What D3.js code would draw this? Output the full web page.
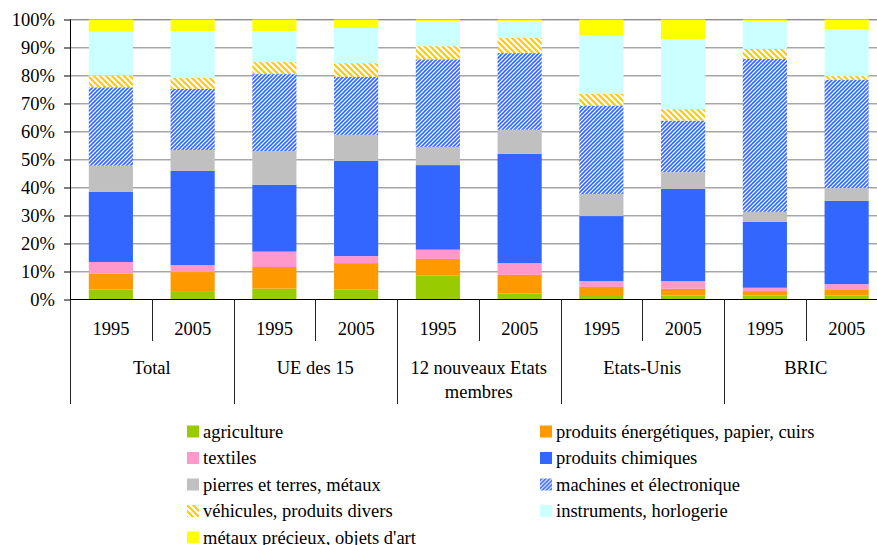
<!DOCTYPE html>
<html>
<head>
<meta charset="utf-8">
<script src="https://cdn.jsdelivr.net/npm/d3@7"></script>
<style>
  body { margin: 0; background: #fff; }
  svg { display: block; font-family: "Liberation Serif", "Times New Roman", serif; }
</style>
</head>
<body>
<svg id="chart" width="877" height="545"></svg>
<script>
// Groups and years (two bars per group)
var groups = ["Total", "UE des 15", "12 nouveaux Etats|membres", "Etats-Unis", "BRIC"];
var years = ["1995", "2005"];

// Series names (stack order, bottom to top)
var seriesNames = [
    "agriculture",
    "produits énergétiques, papier, cuirs",
    "textiles",
    "produits chimiques",
    "pierres et terres, métaux",
    "machines et électronique",
    "véhicules, produits divers",
    "instruments, horlogerie",
    "métaux précieux, objets d'art"
];

// Shares (%) per bar: Total95, Total05, UE95, UE05, NEM95, NEM05, US95, US05, BRIC95, BRIC05
var agriculture = [3.6, 3.0, 3.9, 3.5, 8.5, 2.1, 1.6, 1.4, 1.4, 1.4];
var energie     = [5.6, 6.8, 7.7, 9.5, 6.0, 6.7, 2.9, 2.4, 1.6, 2.0];
var textiles    = [4.2, 2.5, 5.5, 2.5, 3.3, 4.2, 2.1, 2.8, 1.2, 2.1];
var chimiques   = [25.0, 33.6, 23.9, 34.0, 30.2, 39.0, 23.2, 32.9, 23.5, 29.7];
var pierres     = [9.4, 7.5, 12.0, 9.3, 6.5, 8.6, 7.9, 6.0, 3.6, 4.6];
var machines    = [28.0, 21.8, 27.5, 20.7, 31.3, 27.4, 31.4, 18.4, 54.6, 38.6];
var vehicules   = [4.2, 3.9, 4.3, 4.9, 4.7, 5.4, 4.3, 4.1, 3.6, 1.4];
var instruments = [15.6, 16.8, 11.1, 12.6, 9.0, 6.1, 20.8, 25.0, 10.0, 16.8];
var metaux      = [4.4, 4.1, 4.1, 3.0, 0.5, 0.5, 5.8, 7.0, 0.5, 3.4];

var yTicks = [0, 10, 20, 30, 40, 50, 60, 70, 80, 90, 100];

var seriesValues = [agriculture, energie, textiles, chimiques, pierres, machines, vehicules, instruments, metaux];
var fills = ["#99cc00", "#ff9900", "#ff99cc", "#3366ff", "#c0c0c0", "url(#hatchBlue)", "url(#hatchOrange)", "#ccffff", "#ffff00"];

(function() {
    var plotLeft = 70, plotRight = 887.5, plotTop = 19.5, plotBottom = 299.5;
    var nBars = groups.length * years.length;

    var svg = d3.select("#chart");

    // Hatch patterns
    var defs = svg.append("defs");
    var pb = defs.append("pattern")
        .attr("id", "hatchBlue")
        .attr("patternUnits", "userSpaceOnUse")
        .attr("width", 4).attr("height", 4);
    pb.append("rect").attr("width", 4).attr("height", 4).attr("fill", "#fff");
    pb.append("path")
        .attr("d", "M-1,1 l2,-2 M0,4 l4,-4 M3,5 l2,-2")
        .attr("stroke", "#3366ff").attr("stroke-width", 1.6);

    var po = defs.append("pattern")
        .attr("id", "hatchOrange")
        .attr("patternUnits", "userSpaceOnUse")
        .attr("width", 6).attr("height", 6);
    po.append("rect").attr("width", 6).attr("height", 6).attr("fill", "#fff");
    po.append("path")
        .attr("d", "M-1.5,4.5 l3,3 M0,0 l6,6 M4.5,-1.5 l3,3")
        .attr("stroke", "#ffcc00").attr("stroke-width", 2.2);

    var x = d3.scaleBand()
        .domain(d3.range(nBars))
        .range([plotLeft, plotRight])
        .paddingInner(0.46)
        .paddingOuter(0.23);

    var y = d3.scaleLinear()
        .domain([0, 100])
        .range([plotBottom, plotTop]);

    // Gridlines
    svg.append("g").selectAll("line")
        .data(yTicks.slice(1))
        .enter().append("line")
        .attr("x1", plotLeft).attr("x2", plotRight)
        .attr("y1", function(d) { return y(d); })
        .attr("y2", function(d) { return y(d); })
        .attr("stroke", function(d) { return d === 100 ? "#8c8c8c" : "#a6a6a6"; });
    svg.append("g").selectAll("line")
        .data(yTicks.slice(1))
        .enter().append("line")
        .attr("x1", plotLeft).attr("x2", plotRight)
        .attr("y1", function(d) { return y(d) + 1; })
        .attr("y2", function(d) { return y(d) + 1; })
        .attr("stroke", "#d4d4d4");

    // Stacked bars
    var table = d3.range(nBars).map(function(i) {
        var row = { i: i };
        seriesNames.forEach(function(name, k) { row[name] = seriesValues[k][i]; });
        return row;
    });
    var stack = d3.stack().keys(seriesNames)(table);

    svg.append("g").selectAll("g")
        .data(stack)
        .enter().append("g")
        .attr("fill", function(d, k) { return fills[k]; })
        .selectAll("rect")
        .data(function(d) { return d; })
        .enter().append("rect")
        .attr("x", function(d) { return x(d.data.i); })
        .attr("width", x.bandwidth())
        .attr("y", function(d) { return y(Math.min(d[1], 100)); })
        .attr("height", function(d) { return y(d[0]) - y(Math.min(d[1], 100)); });

    // Y axis
    var yAxis = svg.append("g")
        .attr("transform", "translate(" + plotLeft + ",0)")
        .call(d3.axisLeft(y).tickValues(yTicks).tickSize(6).tickPadding(9)
            .tickFormat(function(d) { return d + "%"; }));
    yAxis.select(".domain").attr("stroke", "#000").attr("d", "M0.5," + plotTop + "V" + plotBottom);
    yAxis.selectAll(".tick line").attr("stroke", "#000");
    yAxis.selectAll(".tick text")
        .attr("fill", "#000")
        .style("font-size", "18.5px")
        .style("font-family", "Liberation Serif, serif");

    // Bottom axis line
    svg.append("line")
        .attr("x1", plotLeft).attr("x2", plotRight)
        .attr("y1", plotBottom).attr("y2", plotBottom)
        .attr("stroke", "#000");

    // Separators under the axis
    var step = x.step();
    svg.append("g").selectAll("line")
        .data(d3.range(nBars + 1))
        .enter().append("line")
        .attr("x1", function(i) { return Math.round(plotLeft + i * step) + 0.5; })
        .attr("x2", function(i) { return Math.round(plotLeft + i * step) + 0.5; })
        .attr("y1", plotBottom)
        .attr("y2", function(i) { return i % 2 === 0 ? 404 : 341; })
        .attr("stroke", "#222");

    // Year labels
    svg.append("g").selectAll("text")
        .data(d3.range(nBars))
        .enter().append("text")
        .attr("x", function(i) { return x(i) + x.bandwidth() / 2; })
        .attr("y", 335)
        .attr("text-anchor", "middle")
        .style("font-size", "18.5px")
        .text(function(i) { return years[i % 2]; });

    // Group labels
    var gl = svg.append("g").selectAll("text")
        .data(groups)
        .enter().append("text")
        .attr("x", function(d, g) { return plotLeft + (2 * g + 1) * step; })
        .attr("y", 374)
        .attr("text-anchor", "middle")
        .style("font-size", "18.5px");
    gl.selectAll("tspan")
        .data(function(d) { return d.split("|"); })
        .enter().append("tspan")
        .attr("x", function() { return d3.select(this.parentNode).attr("x"); })
        .attr("dy", function(d, j) { return j === 0 ? 0 : 24; })
        .text(function(d) { return d; });

    // Legend
    var legendCols = [187, 540];
    var legendY0 = 431.5, legendDy = 26.5;
    var legend = svg.append("g").selectAll("g")
        .data(seriesNames)
        .enter().append("g")
        .attr("transform", function(d, k) {
            return "translate(" + legendCols[k % 2] + "," + (legendY0 + Math.floor(k / 2) * legendDy) + ")";
        });
    legend.append("rect")
        .attr("x", 0).attr("y", -6)
        .attr("width", 12).attr("height", 12)
        .attr("fill", function(d, k) { return fills[k]; });
    legend.append("text")
        .attr("x", 16).attr("y", 6)
        .style("font-size", "18.5px")
        .text(function(d) { return d; });
})();
</script>
</body>
</html>
